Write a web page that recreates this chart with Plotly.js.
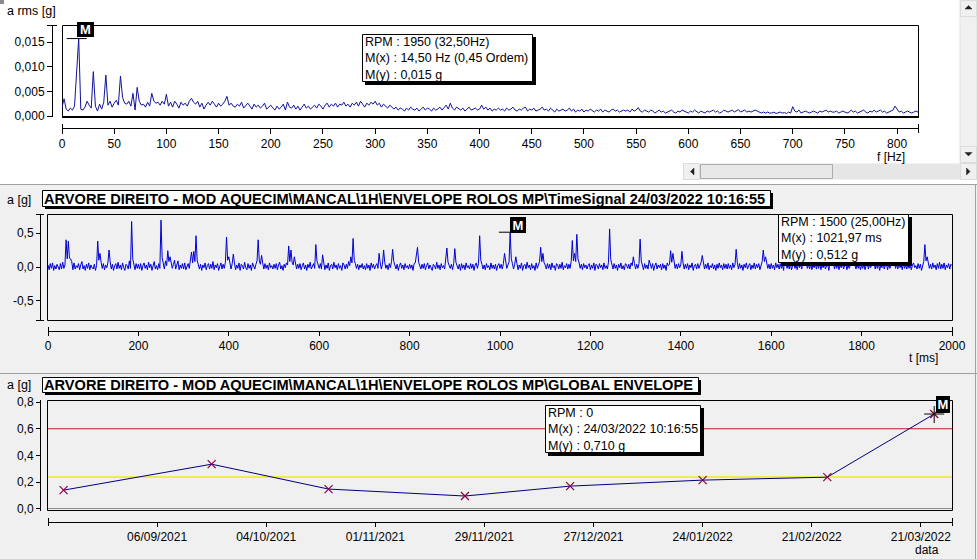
<!DOCTYPE html>
<html><head><meta charset="utf-8">
<script src="https://cdn.plot.ly/plotly-3.0.1.min.js"></script>
<style>html,body{margin:0;padding:0;background:#fff;overflow:hidden}#chart{width:977px;height:559px}</style>
</head><body><div id="chart"></div>
<script>
// ================= DATA =================
// Spectrum (top): amplitude in 1e-4 g, one value every 2 Hz from 0 Hz
const specStepHz = 2;
const specAmpE4 = [
18,35,14,10,16,12,20,92,157,14,
12,18,30,22,16,90,20,10,24,14,
28,83,22,30,18,26,32,22,81,38,
26,24,30,20,46,12,58,30,22,24,
18,28,20,46,30,26,28,22,30,24,
44,20,28,18,30,24,16,28,22,26,
20,30,36,28,24,30,18,26,14,22,
28,22,30,24,18,26,20,24,30,40,
22,26,20,18,24,20,28,16,22,26,
20,14,24,18,22,16,20,26,14,18,
22,16,12,20,14,18,24,12,28,18,
16,22,14,20,12,18,24,16,20,14,
18,22,16,24,20,14,22,26,18,24,
20,26,18,24,22,28,20,24,18,26,
22,28,20,30,24,18,26,22,28,24,
30,22,26,18,24,20,16,22,18,14,
18,12,16,14,10,16,12,18,14,12,
16,10,14,18,12,16,14,10,16,12,
14,18,12,16,22,14,26,16,12,18,
14,12,16,10,14,18,12,14,16,12,
14,22,14,18,12,16,10,14,12,16,
12,14,10,16,12,14,18,12,10,14,
12,16,18,10,14,12,16,10,12,14,
18,12,14,10,16,12,8,14,10,12,
14,10,12,16,10,14,8,12,10,14,
8,12,10,14,10,8,12,10,14,8,
12,10,8,12,14,10,12,8,10,12,
10,12,8,14,10,12,17,10,8,12,
10,8,12,10,6,10,12,8,10,6,
8,10,12,8,6,10,8,12,10,8,
6,10,8,12,8,6,10,8,6,10,
8,10,12,8,10,6,8,12,10,8,
10,12,8,10,13,8,10,12,8,10,
8,10,12,10,8,6,8,6,8,6,
6,8,5,6,8,6,7,5,8,6,
19,10,8,12,6,8,10,8,6,8,
10,8,6,10,8,10,12,8,10,8,
8,10,6,8,10,8,6,8,12,8,
10,6,8,10,12,8,6,10,8,12,
8,10,12,8,10,6,8,10,12,20,
14,8,10,6,8,10,8,6,8,10,8
];
const specMarkerX = 16;       // Hz
const specMarkerY = 0.0157;   // g
const specInfo = ['RPM : 1950 (32,50Hz)', 'M(x) : 14,50 Hz (0,45 Ordem)', 'M(y) : 0,015 g'];

// Time signal (middle): amplitude in 0.01 g, one value every 2.5 ms from 0 ms
const timeStepMs = 2.5;
const timeAmpCg = [
3,-4,5,-2,6,-5,2,-3,4,-1,-4,5,-3,7,-2,3,40,12,38,13,12,8,-4,6,-3,2,-1,5,-4,3,8,-3,2,-5,4,-2,6,-4,3,-1,
-3,4,-5,2,38,10,20,7,-2,5,-4,3,-1,6,25,8,-3,4,-5,2,5,-3,7,-2,3,-4,6,-1,-5,4,2,-3,9,-2,67,12,3,-4,5,-2,
4,-3,5,-5,2,6,-2,3,-4,7,-1,4,-5,3,8,-3,2,-4,5,-2,69,14,6,-3,9,2,24,8,15,6,-2,4,10,-3,5,9,-4,3,-2,5,
-3,6,-4,2,5,-2,7,22,6,23,8,46,10,5,-3,4,-5,3,-1,6,-4,2,5,-3,4,-2,8,-4,3,-1,5,-5,2,6,-3,4,-2,7,44,10,
15,4,-3,5,19,6,-4,3,-2,6,-5,4,2,-3,7,-1,-4,5,-2,3,-5,6,2,-3,4,9,40,9,4,17,6,-3,5,-2,3,-4,6,-1,2,-3,
4,-2,5,-4,3,7,-3,2,-5,4,-1,6,3,31,8,25,7,3,15,5,-3,4,-2,5,-4,2,6,-3,3,-5,4,-1,7,-3,2,5,-2,33,9,3,
-2,5,-3,18,5,-4,3,-2,6,-5,2,4,-3,7,-1,3,-4,5,-2,2,-5,6,3,-3,4,-2,8,2,15,6,42,10,5,-2,4,-4,3,-1,5,-3,
2,-4,5,-2,3,-5,6,-1,4,-3,2,5,-2,20,6,-3,4,25,7,-2,3,-4,5,-1,8,26,8,3,-3,4,-5,2,6,-2,3,-4,5,-1,2,-3,
4,-2,3,-5,5,6,20,29,7,3,-3,4,-2,5,-4,2,6,-3,3,-1,-5,4,2,-3,7,-2,3,-4,5,-1,2,-3,9,28,7,3,-2,4,-4,5,
27,7,2,-3,4,-5,5,-2,3,-4,6,-1,2,-3,5,-2,4,-5,3,6,-2,5,46,10,4,-3,3,-4,5,-1,2,-4,6,-2,3,-3,4,-5,2,5,
-2,4,-3,5,20,6,-2,3,7,51,12,5,-3,4,15,5,-4,3,-2,6,-5,2,4,-3,7,-1,3,-4,5,-2,2,-5,6,-2,3,8,29,8,20,6,
3,-3,5,-2,4,-4,6,-1,2,-5,5,3,-3,4,-2,7,-4,2,-1,5,-3,4,-2,8,39,9,20,8,48,12,6,-2,4,-4,5,-1,3,-3,2,5,
-4,3,-2,6,-5,4,2,-3,5,-1,3,-4,6,-2,2,-3,7,56,11,4,-3,5,-2,3,-5,4,-1,6,-3,2,-4,5,3,-2,4,-3,6,2,15,5,
-3,4,-2,5,41,9,3,-4,5,-2,3,-3,10,4,-2,5,-5,2,6,-3,3,-1,4,-4,5,-2,3,-5,6,2,4,24,7,20,6,-2,4,-3,5,-1,
3,23,6,-3,4,-2,5,-4,3,-1,6,-5,2,4,-3,5,-2,3,7,17,5,-3,4,-2,6,-4,2,-1,5,-3,3,-5,4,-2,6,-1,3,-4,5,-2,
4,-3,5,-2,3,-4,6,-1,4,26,7,-3,5,-2,3,-5,4,-1,6,-3,2,5,-4,3,-2,6,-3,4,-1,5,-4,3,8,25,8,15,5,-2,4,-3,
5,-2,3,-4,6,-1,4,-3,5,-2,3,-5,18,6,-2,4,-3,5,-4,2,6,-2,3,-4,5,-1,4,-3,6,2,30,8,-2,4,-3,5,-4,3,-1,5,
-3,4,-2,6,-4,3,-1,5,-3,2,4,-5,6,2,22,6,-3,4,-2,5,-4,3,-1,6,-3,2,5,-4,3,-2,4,7,35,9,3,-3,5,-2,4,-4,
3,-2,5,-4,2,6,-3,4,-1,5,20,6,-3,4,-2,5,-5,3,-1,6,-3,2,4,-4,5,-2,3,7,26,7,-2,4,-3,5,-1,3,-4,6,-2,3,
-3,5,-2,4,-4,3,6,-1,2,-3,5,-2,4,-5,3,8,33,9,15,5,-2,4,-3,6,-1,3,-4,5,-2,7,-3,4,-2,6,-4,3,-1,5,-3,4,2
];
const timeMarkerX = 1021.97;  // ms
const timeMarkerY = 0.512;    // g
const timeYTickVals = [-0.5, 0, 0.5];
const timeYTickText = ['-0,5', '0,0', '0,5'];
const timeTitle = 'ARVORE DIREITO - MOD AQUECIM\\MANCAL\\1H\\ENVELOPE ROLOS MP\\TimeSignal 24/03/2022 10:16:55';
const timeInfo = ['RPM : 1500 (25,00Hz)', 'M(x) : 1021,97 ms', 'M(y) : 0,512 g'];

// Global envelope trend (bottom)
const trendDates = ['2021-08-13', '2021-09-20', '2021-10-20', '2021-11-24', '2021-12-21', '2022-01-24', '2022-02-25', '2022-03-24 10:16:55'];
const trendValues = [0.141, 0.335, 0.149, 0.097, 0.171, 0.216, 0.238, 0.710];
const alarmLevel = 0.60;
const alertLevel = 0.24;
const trendTickDates = ['2021-09-06', '2021-10-04', '2021-11-01', '2021-11-29', '2021-12-27', '2022-01-24', '2022-02-21', '2022-03-21'];
const trendMarkerX = '2022-03-24 10:16:55';
const trendMarkerY = 0.710;
const trendTitle = 'ARVORE DIREITO - MOD AQUECIM\\MANCAL\\1H\\ENVELOPE ROLOS MP\\GLOBAL ENVELOPE';
const trendInfo = ['RPM : 0', 'M(x) : 24/03/2022 10:16:55', 'M(y) : 0,710 g'];

// ================= LAYOUT HELPERS =================
const W = 977, H = 559;
const px = v => v / W;
const py = v => 1 - v / H;
const FONT = 'Liberation Sans, Arial, sans-serif';
const PANEL = '#f0f0f0';

function rect(x0, y0, x1, y1, fill, lineColor, lw, layer) {
  return {type: 'rect', xref: 'paper', yref: 'paper', x0: px(x0), x1: px(x1), y0: py(y1), y1: py(y0),
    fillcolor: fill || 'rgba(0,0,0,0)', line: {color: lineColor || 'rgba(0,0,0,0)', width: lw || 0}, layer: layer || 'above'};
}
function seg(x0, y0, x1, y1, color, lw, layer) {
  return {type: 'line', xref: 'paper', yref: 'paper', x0: px(x0), x1: px(x1), y0: py(y0), y1: py(y1),
    line: {color: color, width: lw || 1}, layer: layer || 'above'};
}
function tri(pts, color) {
  const d = 'M' + pts.map(p => px(p[0]) + ',' + py(p[1])).join('L') + 'Z';
  return {type: 'path', xref: 'paper', yref: 'paper', path: d, fillcolor: color, line: {color: color, width: 0.5}, layer: 'above'};
}
function txt(x, y, text, opts) {
  return Object.assign({xref: 'paper', yref: 'paper', x: px(x), y: py(y), text: text, showarrow: false,
    xanchor: 'left', yanchor: 'middle', font: {family: FONT, size: 12.5, color: '#000'}, borderpad: 0, borderwidth: 0}, opts || {});
}
function markLineH(xr, yr, xa, ya, dx0, dx1) {
  return {type: 'line', xref: xr, yref: yr, xsizemode: 'pixel', xanchor: xa, x0: dx0, x1: dx1, y0: ya, y1: ya,
    line: {color: '#000', width: 1}, layer: 'above'};
}
function markLineV(xr, yr, xa, ya, dy0, dy1) {
  return {type: 'line', xref: xr, yref: yr, ysizemode: 'pixel', yanchor: ya, y0: dy0, y1: dy1, x0: xa, x1: xa,
    line: {color: '#000', width: 1}, layer: 'above'};
}
// black "M" tag anchored at a data point (not clipped)
function mTag(xr, yr, xa, ya, xs, ys, w, h) {
  return {xref: xr, yref: yr, x: xa, y: ya, text: '<b>M</b>', showarrow: false, xanchor: 'left', yanchor: 'bottom',
    xshift: xs, yshift: ys, width: w, height: h, bgcolor: '#000', borderpad: 0, borderwidth: 0, align: 'center', valign: 'middle',
    font: {family: FONT, size: 13, color: '#fff'}};
}
function infoBox(x0, y0, x1, y1) {
  return [rect(x0 + 3, y0 + 3, x1 + 3, y1 + 3, '#000'), rect(x0 + 0.5, y0 + 0.5, x1 - 0.5, y1 - 0.5, '#fff', '#000', 1)];
}

// ================= TRACES =================
const freqHz = specAmpE4.map((_, i) => i * specStepHz);
const specG = specAmpE4.map(v => v * 1e-4);
const timeMs = timeAmpCg.map((_, i) => i * timeStepMs);
const timeG = timeAmpCg.map(v => v * 0.01);

const traces = [
  {x: freqHz, y: specG, xaxis: 'x', yaxis: 'y', type: 'scatter', mode: 'lines', line: {color: '#12129c', width: 1}, hoverinfo: 'skip'},
  {x: timeMs, y: timeG, xaxis: 'x2', yaxis: 'y2', type: 'scatter', mode: 'lines', line: {color: '#0000d6', width: 1}, hoverinfo: 'skip'},
  {x: trendDates, y: trendValues, xaxis: 'x3', yaxis: 'y3', type: 'scatter', mode: 'lines+markers',
    line: {color: '#000080', width: 1},
    marker: {symbol: 'x-thin', size: 8, color: '#8b0040', line: {width: 1.2, color: '#8b0040'}}, hoverinfo: 'skip'}
];

const ax = {showgrid: false, zeroline: false, showline: true, linecolor: '#000', linewidth: 1, ticks: 'outside',
  tickcolor: '#000', tickwidth: 1, tickfont: {family: FONT, size: 12, color: '#000'}, fixedrange: true, anchor: 'free'};

const layout = {
  width: W, height: H, autosize: false, margin: {l: 0, r: 0, t: 0, b: 0, pad: 0},
  paper_bgcolor: '#ffffff', plot_bgcolor: 'rgba(0,0,0,0)', showlegend: false, separators: ', ',
  font: {family: FONT, size: 12, color: '#000'},
  xaxis: Object.assign({}, ax, {domain: [px(62), px(918)], range: [0, 820], tick0: 0, dtick: 50, position: py(128), ticklen: 5, side: 'bottom'}),
  yaxis: Object.assign({}, ax, {domain: [py(117), py(25)], range: [-0.0002, 0.01845], tick0: 0, dtick: 0.005, tickformat: '.3f', position: px(52), ticklen: 5, side: 'left'}),
  xaxis2: Object.assign({}, ax, {domain: [px(48), px(952)], range: [0, 2000], tick0: 0, dtick: 200, position: py(331), ticklen: 4, side: 'bottom'}),
  yaxis2: Object.assign({}, ax, {domain: [py(320), py(214)], range: [-0.78, 0.78], tickvals: timeYTickVals, ticktext: timeYTickText, position: px(40), ticklen: 4, side: 'left'}),
  xaxis3: Object.assign({}, ax, {type: 'date', domain: [px(48), px(952)], range: ['2021-08-09', '2022-03-29'], tickvals: trendTickDates, tickformat: '%d/%m/%Y', position: py(522), ticklen: 4, side: 'bottom'}),
  yaxis3: Object.assign({}, ax, {domain: [py(511), py(400)], range: [-0.015, 0.815], tick0: 0, dtick: 0.2, tickformat: '.1f', position: px(40), ticklen: 4, side: 'left',
    zeroline: true, zerolinecolor: '#8c8c8c', zerolinewidth: 1})
};

// ---------- shapes ----------
const shapes = [
  // panel backgrounds
  rect(0, 0, W, 184, '#ffffff', null, 0, 'below'),
  rect(0, 185, W, 373, PANEL, null, 0, 'below'),
  rect(0, 374, W, H, PANEL, null, 0, 'below'),
  seg(0, 184.5, W, 184.5, '#a0a0a0', 1, 'below'),
  seg(0, 373.5, W, 373.5, '#a0a0a0', 1, 'below'),
  seg(975.5, 185, 975.5, H, '#a0a0a0', 1, 'below'),
  rect(0, 0, 4, 4, '#8c8c8c', null, 0, 'below'),
  // plot frames
  rect(62.5, 25.5, 918.5, 117.5, '#ffffff', '#000', 1, 'below'),
  seg(62, 117, 919, 117, '#000', 2, 'above'),
  rect(47.5, 214.5, 952.5, 320.5, PANEL, '#000', 1, 'below'),
  rect(47.5, 400.5, 952.5, 510.5, PANEL, '#000', 1, 'below'),
  // axis end ticks
  seg(62.5, 124, 62.5, 133, '#000'), seg(918.5, 124, 918.5, 133, '#000'),
  seg(47, 25.5, 57, 25.5, '#000'),
  seg(48.5, 327, 48.5, 336, '#000'), seg(952.5, 327, 952.5, 335, '#000'),
  seg(36, 214.5, 44, 214.5, '#000'), seg(36, 320.5, 44, 320.5, '#000'),
  seg(48.5, 518, 48.5, 526, '#000'), seg(952.5, 518, 952.5, 526, '#000'),
  // alarm / alert levels
  {type: 'line', xref: 'x3 domain', yref: 'y3', x0: 0, x1: 1, y0: alertLevel, y1: alertLevel, line: {color: '#f0ec4a', width: 2}, layer: 'below'},
  {type: 'line', xref: 'x3 domain', yref: 'y3', x0: 0, x1: 1, y0: alarmLevel, y1: alarmLevel, line: {color: '#c01818', width: 1}, layer: 'below'},
  // vertical scrollbar
  rect(960, 0, 977, 163, '#f0f0f0', '#e2e2e2', 1),
  rect(960.5, 0.5, 976.5, 16.5, '#f0f0f0', '#dcdcdc', 1),
  rect(960.5, 146.5, 976.5, 162.5, '#f0f0f0', '#dcdcdc', 1),
  tri([[965, 9], [972, 9], [968.5, 5.5]], '#202020'),
  tri([[965, 152.5], [972, 152.5], [968.5, 156]], '#202020'),
  // horizontal scrollbar
  rect(683, 163, 977, 180, '#f0f0f0', null, 0),
  rect(833, 164, 960, 179, '#e6e6e6', null, 0),
  rect(683.5, 163.5, 699.5, 179.5, '#f0f0f0', '#dcdcdc', 1),
  rect(700.5, 164.5, 832.5, 178.5, '#e8e8e8', '#acacac', 1),
  rect(960.5, 163.5, 976.5, 179.5, '#f0f0f0', '#dcdcdc', 1),
  tri([[694, 168], [694, 175], [690.5, 171.5]], '#202020'),
  tri([[966.5, 168], [966.5, 175], [970, 171.5]], '#202020'),
  // title boxes
  rect(45, 193, 773, 209, '#000'),
  rect(42.5, 190.5, 770.5, 206.5, '#fff', '#000', 1),
  rect(45, 380, 701, 395, '#000'),
  rect(42.5, 377.5, 698.5, 392.5, '#fff', '#000', 1)
].concat(
  infoBox(362, 34, 533, 82),
  infoBox(778, 214, 909, 263),
  infoBox(545, 405, 701, 453),
  [
    // marker cursors
    markLineH('x', 'y', specMarkerX, specMarkerY, -12, 8),
    markLineH('x2', 'y2', timeMarkerX, timeMarkerY, -11, 9),
    markLineH('x3', 'y3', trendMarkerX, trendMarkerY, -10, 10),
    markLineV('x3', 'y3', trendMarkerX, trendMarkerY, -9, 8)
  ]
);

const bold = {family: FONT, size: 14.6, color: '#000'};
const annotations = [
  txt(7, 11, 'a rms [g]'),
  txt(905, 157, 'f [Hz]', {xanchor: 'right', font: {family: FONT, size: 12, color: '#000'}}),
  txt(7, 200, 'a [g]'),
  txt(938, 358, 't [ms]', {xanchor: 'right', font: {family: FONT, size: 12, color: '#000'}}),
  txt(7, 385, 'a [g]'),
  txt(939, 550, 'data', {xanchor: 'right', font: {family: FONT, size: 12, color: '#000'}}),
  txt(44, 198.5, '<b>' + timeTitle + '</b>', {font: bold}),
  txt(44, 385, '<b>' + trendTitle + '</b>', {font: bold}),
  txt(365, 35, specInfo.join('<br>'), {yanchor: 'top', align: 'left'}),
  txt(781, 215, timeInfo.join('<br>'), {yanchor: 'top', align: 'left'}),
  txt(548, 406, trendInfo.join('<br>'), {yanchor: 'top', align: 'left'}),
  mTag('x', 'y', specMarkerX, specMarkerY, -2, 2, 17, 15),
  mTag('x2', 'y2', timeMarkerX, timeMarkerY, 0, -1, 16, 16),
  mTag('x3', 'y3', trendMarkerX, trendMarkerY, 2, 1, 14, 17)
];

layout.shapes = shapes;
layout.annotations = annotations;

Plotly.newPlot('chart', traces, layout, {displayModeBar: false, staticPlot: true});
</script>
</body></html>
